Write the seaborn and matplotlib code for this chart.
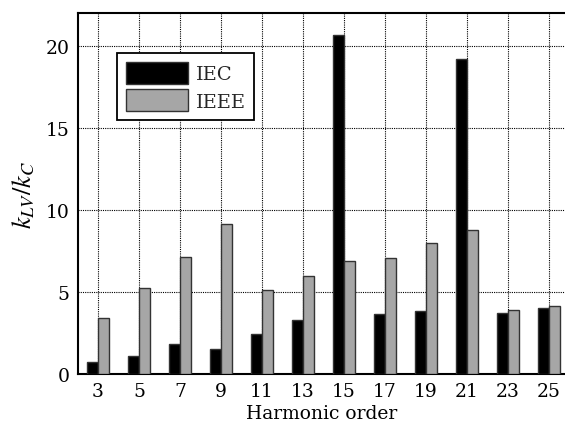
import matplotlib
matplotlib.use("Agg")
import matplotlib.pyplot as plt
import seaborn as sns
import pandas as pd
from matplotlib.patches import Patch

orders = ["3", "5", "7", "9", "11", "13", "15", "17", "19", "21", "23", "25"]
iec = [0.73, 1.09, 1.82, 1.55, 2.46, 3.27, 20.67, 3.64, 3.82, 19.21, 3.73, 4.00]
ieee = [3.43, 5.23, 7.13, 9.13, 5.09, 5.96, 6.88, 7.07, 7.98, 8.79, 3.90, 4.16]
series = ["IEC", "IEEE"]
colors = ["#000000", "#a6a6a6"]

df = pd.DataFrame({
    "order": orders * 2,
    "value": iec + ieee,
    "std": ["IEC"] * len(orders) + ["IEEE"] * len(orders),
})

sns.set_theme(style="white")
plt.rcParams["font.family"] = ["DejaVu Serif"]
plt.rcParams["mathtext.fontset"] = "stix"

fig = plt.figure(figsize=(5.65, 4.31), dpi=100)
ax = fig.add_axes([0.138, 0.130, 0.862, 0.8375])

sns.barplot(data=df, x="order", y="value", hue="std", order=orders,
            hue_order=series, palette=colors, width=0.52, gap=0,
            edgecolor="0.2", linewidth=1.0, ax=ax, legend=False, zorder=3)

ax.set_xlim(-0.49, 11.39)
ax.set_ylim(0, 22)
ax.set_yticks([0, 5, 10, 15, 20])
ax.grid(True, which="major", axis="both", color="black", linestyle=(0, (1, 1)),
        linewidth=0.8, zorder=0)
ax.set_axisbelow(True)
for side in ["left", "top", "bottom"]:
    ax.spines[side].set_color("black")
    ax.spines[side].set_linewidth(1.5)
ax.spines["right"].set_visible(False)
ax.tick_params(axis="both", labelsize=13.5, colors="black", direction="in",
               length=0, pad=6)
ax.set_xlabel("Harmonic order", fontsize=13.5, color="black", labelpad=3)
ax.set_ylabel(r"$k_{LV}/k_C$", fontsize=19, color="black", labelpad=6)

handles = [Patch(facecolor=c, edgecolor="0.2", linewidth=1.0) for c in colors]
leg = ax.legend(handles, series, loc="upper left", bbox_to_anchor=(0.080, 0.889),
                fontsize=14, frameon=True, fancybox=False, edgecolor="black",
                framealpha=1, handlelength=3.2, handleheight=1.35,
                borderpad=0.45, labelspacing=0.3, handletextpad=0.4,
                borderaxespad=0)
leg.get_frame().set_linewidth(1.3)

fig.savefig("out.png", dpi=100)
